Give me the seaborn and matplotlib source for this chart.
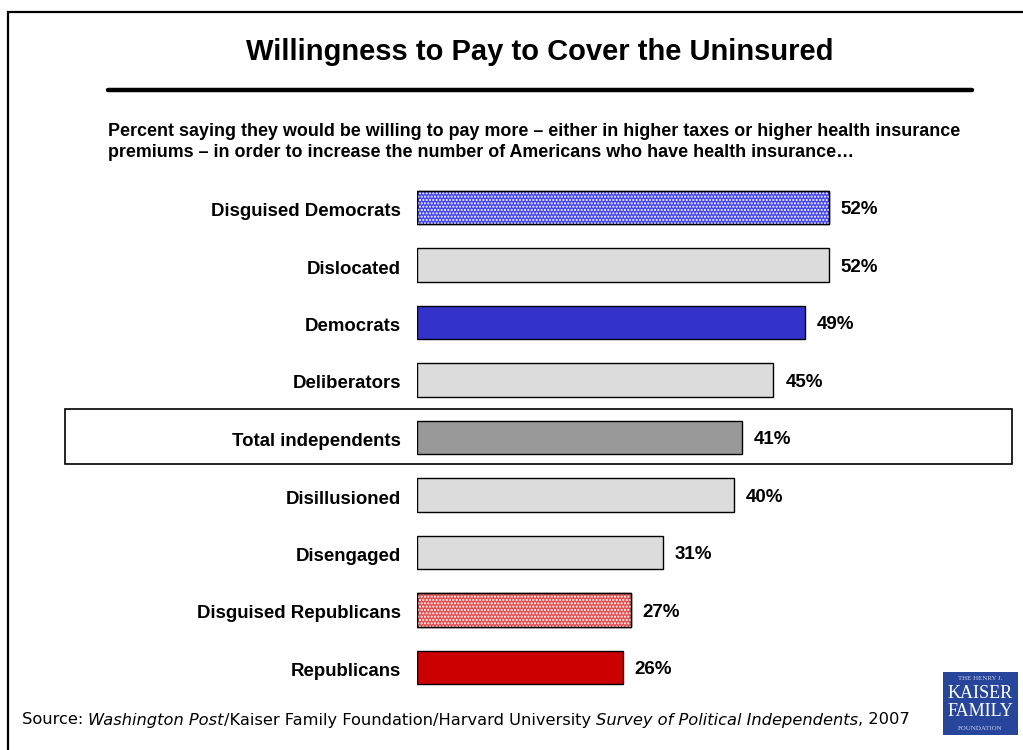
import matplotlib
matplotlib.use("Agg")
import matplotlib.pyplot as plt
import matplotlib.transforms as mtransforms
import seaborn as sns
import pandas as pd
from matplotlib.patches import Rectangle
from matplotlib.lines import Line2D

categories = ["Disguised Democrats", "Dislocated", "Democrats", "Deliberators",
              "Total independents", "Disillusioned", "Disengaged",
              "Disguised Republicans", "Republicans"]
values = [52, 52, 49, 45, 41, 40, 31, 27, 26]
value_labels = ["52%", "52%", "49%", "45%", "41%", "40%", "31%", "27%", "26%"]
bar_colors = ["#4646f0", "#dcdcdc", "#3333cc", "#dcdcdc", "#999999",
              "#dcdcdc", "#dcdcdc", "#e25050", "#cc0000"]
hatched = [True, False, False, False, False, False, False, True, False]

title = "Willingness to Pay to Cover the Uninsured"
subtitle = ("Percent saying they would be willing to pay more \u2013 either in higher taxes or higher health insurance\n"
            "premiums \u2013 in order to increase the number of Americans who have health insurance\u2026")

sns.set_theme(style="white")
plt.rcParams['font.family'] = ['Liberation Sans', 'DejaVu Sans']
plt.rcParams['hatch.linewidth'] = 1.0

W, H = 1023, 750
fig = plt.figure(figsize=(W / 100, H / 100), dpi=100)
fig.patch.set_facecolor("white")

def fx(px):
    return px / W

def fy(py):
    return 1 - py / H

# outer frame
fig.add_artist(Rectangle((fx(8), fy(760)), fx(1030) - fx(8), fy(12) - fy(760),
                         transform=fig.transFigure, fill=False, edgecolor="black",
                         linewidth=1.6, zorder=0))
# highlight box for total independents
fig.add_artist(Rectangle((fx(65), fy(464)), fx(1012) - fx(65), fy(409) - fy(464),
                         transform=fig.transFigure, fill=False, edgecolor="black",
                         linewidth=1.2, zorder=0))
# title rule
fig.add_artist(Line2D([fx(108), fx(972)], [fy(89.5), fy(89.5)], transform=fig.transFigure,
                      color="black", linewidth=3.2))

fig.text(fx(540), fy(52), title, ha="center", va="center", fontsize=21,
         fontweight="bold", color="black")
fig.text(fx(108), fy(142), subtitle, ha="left", va="center", fontsize=12.9,
         fontweight="bold", color="black", linespacing=1.25)

# axes: left at x=417, 7.92 px per percent, rows pitch 57.5 px
x0 = 417
ppu = 7.92
xmax = 60
top = 207.5 - 28.75
bottom = 667.5 + 28.75
ax = fig.add_axes([fx(x0), fy(bottom), xmax * ppu / W, (bottom - top) / H])
ax.patch.set_alpha(0)

df = pd.DataFrame({"category": categories, "value": values})
sns.barplot(data=df, x="value", y="category", hue="category", palette=bar_colors,
            legend=False, orient="h", width=0.574, edgecolor="black",
            linewidth=1.0, ax=ax, saturation=1)

for patch, h in zip(ax.patches, hatched):
    if h:
        overlay = Rectangle(patch.get_xy(), patch.get_width(), patch.get_height(),
                            facecolor="none", edgecolor="white", linewidth=0,
                            hatch=".....", zorder=patch.get_zorder() + 0.1)
        ax.add_patch(overlay)
        border = Rectangle(patch.get_xy(), patch.get_width(), patch.get_height(),
                           facecolor="none", edgecolor="black", linewidth=1.0,
                           zorder=patch.get_zorder() + 0.2)
        ax.add_patch(border)

for i, (v, lab) in enumerate(zip(values, value_labels)):
    ax.text(v + 1.5, i + 0.04, lab, ha="left", va="center", fontsize=13.5,
            fontweight="bold", color="black")

ax.set_xlim(0, xmax)
ax.set_ylim(8.5, -0.5)
ax.set_xlabel("")
ax.set_ylabel("")
ax.set_xticks([])
ax.tick_params(axis="y", length=0, pad=11.5)
shift = mtransforms.ScaledTranslation(0, -2 / 100, fig.dpi_scale_trans)
for t in ax.get_yticklabels():
    t.set_fontweight("bold")
    t.set_fontsize(13.4)
    t.set_color("black")
    t.set_transform(t.get_transform() + shift)
for s in ax.spines.values():
    s.set_visible(False)

# source line
src_y = fy(720)
parts = [("Source: ", "normal"), ("Washington Post", "italic"),
         ("/Kaiser Family Foundation/Harvard University ", "normal"),
         ("Survey of Political Independents", "italic"), (", 2007", "normal")]
renderer = fig.canvas.get_renderer()
xcur = fx(22)
for txt, style in parts:
    t = fig.text(xcur, src_y, txt, ha="left", va="center", fontsize=11.7,
                 fontstyle=style, color="black", family=["DejaVu Sans"])
    probe = fig.text(0, 0, txt + "|", fontsize=11.7, fontstyle=style,
                     family=["DejaVu Sans"])
    bar_probe = fig.text(0, 0, "|", fontsize=11.7, fontstyle=style,
                         family=["DejaVu Sans"])
    wdt = probe.get_window_extent(renderer=renderer).width - \
        bar_probe.get_window_extent(renderer=renderer).width
    probe.remove()
    bar_probe.remove()
    xcur += wdt / W

# logo
fig.add_artist(Rectangle((fx(943), fy(735)), fx(1018) - fx(943), fy(672) - fy(735),
                         transform=fig.transFigure, facecolor="#27459a",
                         edgecolor="none"))
fig.text(fx(980.5), fy(679), "THE HENRY J.", ha="center", va="center", fontsize=5,
         color="#c8d0ea", family=["Liberation Serif"])
fig.text(fx(980.5), fy(694), "KAISER", ha="center", va="center", fontsize=13,
         color="white", family=["Liberation Serif"])
fig.text(fx(980.5), fy(712), "FAMILY", ha="center", va="center", fontsize=13,
         color="white", family=["Liberation Serif"])
fig.text(fx(980.5), fy(728), "FOUNDATION", ha="center", va="center", fontsize=5,
         color="#c8d0ea", family=["Liberation Serif"])

fig.savefig("out.png", dpi=100, facecolor="white")
